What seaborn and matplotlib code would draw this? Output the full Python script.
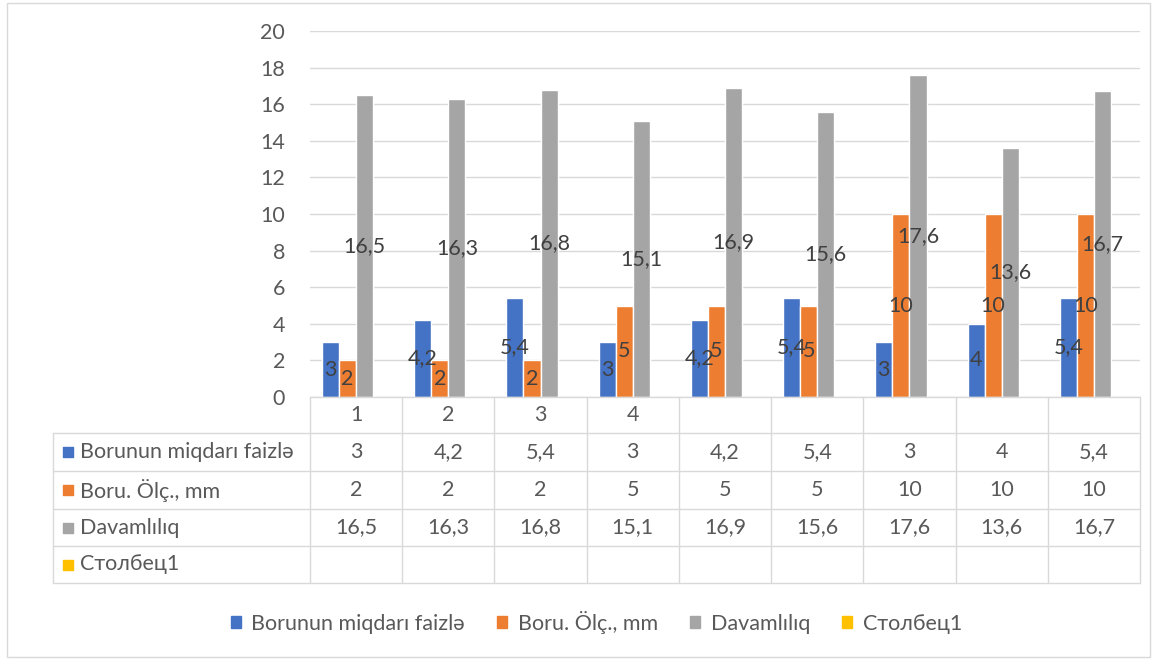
import numpy as np
import pandas as pd
import seaborn as sns
import matplotlib.pyplot as plt
from matplotlib.patches import Patch, Rectangle

# Data
samples = [1, 2, 3, 4, 5, 6, 7, 8, 9]
headerLabels = ['1', '2', '3', '4', '', '', '', '', '']
seriesNames = ['Borunun miqdarı faizlə', 'Boru. Ölç., mm', 'Davamlılıq', 'Столбец1']
boron = [3, 4.2, 5.4, 3, 4.2, 5.4, 3, 4, 5.4]
pipeSize = [2, 2, 2, 5, 5, 5, 10, 10, 10]
durability = [16.5, 16.3, 16.8, 15.1, 16.9, 15.6, 17.6, 13.6, 16.7]
stolbec = [np.nan] * 9
seriesColors = ['#4472C4', '#ED7D31', '#A5A5A5', '#FFC000']

allValues = [boron, pipeSize, durability, stolbec]
df = pd.DataFrame({
    'sample': samples * 4,
    'series': [n for n in seriesNames for _ in samples],
    'value': boron + pipeSize + durability + stolbec,
})

def fmt(v):
    return f'{v:g}'.replace('.', ',')

sns.set_style('white')
plt.rcParams['font.family'] = ['Lato', 'Open Sans', 'DejaVu Sans']
textGray = '#595959'
lineGray = '#D9D9D9'
fs = 15.5

W, H = 1161, 660
fig = plt.figure(figsize=(W / 100, H / 100), dpi=100)

# Main bar axes
ax = fig.add_axes([310 / W, 1 - 397 / H, 830 / W, 366 / H])
sns.barplot(data=df, x='sample', y='value', hue='series', hue_order=seriesNames,
            palette=seriesColors, saturation=1, width=0.74, errorbar=None,
            legend=False, ax=ax)
ax.set_xlim(-0.5, 8.5)
ax.set_ylim(0, 20)
ax.set_yticks(range(0, 21, 2))
ax.set_xticks([])
ax.set_xlabel('')
ax.set_ylabel('')
ax.grid(axis='y', color=lineGray, lw=1.0)
ax.set_axisbelow(True)
for s in ['top', 'right', 'left']:
    ax.spines[s].set_visible(False)
ax.spines['bottom'].set_color(lineGray)
ax.spines['bottom'].set_linewidth(1.0)
ax.tick_params(axis='y', length=0, pad=18, labelsize=fs, labelcolor=textGray)

for cont in ax.containers:
    if len(cont) == 0:
        continue
    ax.bar_label(cont, label_type='center', fmt=fmt, fontsize=fs, color='#404040')

# Data table below the plot
tab = fig.add_axes([53 / W, 1 - 583 / H, (1140 - 53) / W, 186 / H])
catW = 830 / 9
x0 = -0.5 - 257 / catW
tab.set_xlim(x0, 8.5)
tab.set_ylim(186, 0)
tab.axis('off')
rows = [0, 36, 74, 112, 149, 186]

for y in rows[1:]:
    tab.plot([x0, 8.5], [y, y], color=lineGray, lw=1.0, clip_on=False)
for k in range(10):
    tab.plot([k - 0.5, k - 0.5], [0, 186], color=lineGray, lw=1.0, clip_on=False)
tab.plot([x0, x0], [36, 186], color=lineGray, lw=1.0, clip_on=False)

for i, lab in enumerate(headerLabels):
    tab.text(i, 18, lab, ha='center', va='center', fontsize=fs, color=textGray)

for r, (name, vals, col) in enumerate(zip(seriesNames, allValues, seriesColors)):
    yc = (rows[r + 1] + rows[r + 2]) / 2
    tab.scatter([x0 + 15 / catW], [yc], marker='s', s=62, color=col, clip_on=False)
    tab.text(x0 + 27 / catW, yc, name, ha='left', va='center', fontsize=fs, color=textGray)
    for i, v in enumerate(vals):
        if not np.isnan(v):
            tab.text(i, yc, fmt(v), ha='center', va='center', fontsize=fs, color=textGray)

# Legend
handles = [Patch(color=c) for c in seriesColors]
leg = fig.legend(handles, seriesNames, loc='center', bbox_to_anchor=(596.5 / W, 1 - 622 / H),
                 ncol=4, frameon=False, fontsize=fs, handlelength=0.45, handleheight=0.45,
                 handletextpad=0.5, columnspacing=1.5)
for t in leg.get_texts():
    t.set_color(textGray)

# Chart border
fig.patches.append(Rectangle((7 / W, 3 / H), (1150 - 7) / W, 654 / H, transform=fig.transFigure,
                             fill=False, ec=lineGray, lw=1.0))

fig.savefig('out.png', dpi=100)
